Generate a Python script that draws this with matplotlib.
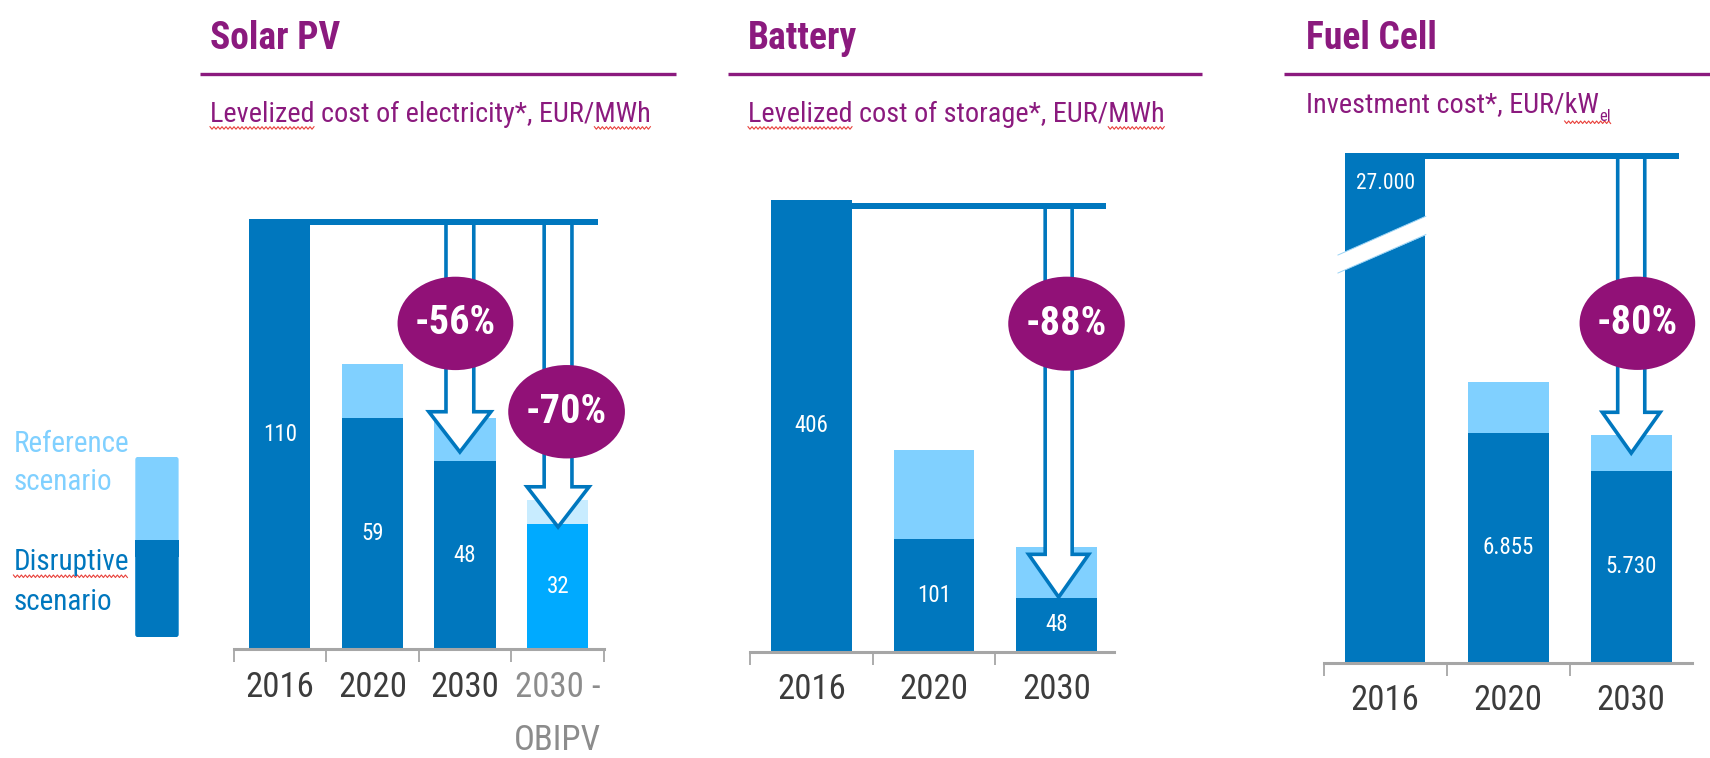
import numpy as np
import matplotlib
matplotlib.use('Agg')
import matplotlib.pyplot as plt
from matplotlib import font_manager as fm
from matplotlib.patches import Rectangle, Ellipse, Polygon, FancyBboxPatch
from matplotlib.lines import Line2D
from matplotlib.text import Annotation

_avail = set(f.name for f in fm.fontManager.ttflist)
_prefs = ['Liberation Sans Narrow', 'Nimbus Sans Narrow', 'Arial Narrow',
          'Roboto Condensed', 'PT Sans Narrow', 'Archivo Narrow', 'Asap Condensed']
NARROW = next((p for p in _prefs if p in _avail), 'Liberation Sans')
FONT = [NARROW, 'Liberation Sans', 'DejaVu Sans']
plt.rcParams['font.family'] = FONT

# ---------------- data ----------------
solar_years = ['2016', '2020', '2030', '2030 -\nOBIPV']
solar_disruptive = [110, 59, 48, 32]
solar_reference = [110, 73, 59, 38]
solar_drops = ['-56%', '-70%']

battery_years = ['2016', '2020', '2030']
battery_disruptive = [406, 101, 48]
battery_reference = [406, 181, 94]
battery_drops = ['-88%']

fuel_years = ['2016', '2020', '2030']
fuel_disruptive = [27000, 6855, 5730]
fuel_reference = [27000, 8380, 6810]
fuel_drops = ['-80%']

titles = ['Solar PV', 'Battery', 'Fuel Cell']
subtitles = ['Levelized cost of electricity*, EUR/MWh',
             'Levelized cost of storage*, EUR/MWh',
             'Investment cost*, EUR/kW']
legend_labels = ['Reference\nscenario', 'Disruptive\nscenario']

# ---------------- style ----------------
DARK = '#0077BE'
LIGHT = '#80D0FF'
BRIGHT = '#00AAFF'
PALE = '#C8ECFF'
PURPLE = '#8B1A7E'
BADGE = '#911177'
AXGRAY = '#A6A6A6'
TICKC = '#3C3C3C'
TICKC2 = '#8C8C8C'
SQUIG = '#E8403A'
LINESP = 1.78

W, H = 1710, 758
fig = plt.figure(figsize=(W / 100, H / 100), dpi=100)


def px_axes(x0, y0, x1, y1):
    return fig.add_axes([x0 / W, 1 - y1 / H, (x1 - x0) / W, (y1 - y0) / H])


def style_axis(ax, labels, xlim, ylim, bounds):
    ax.set_xlim(*xlim)
    ax.set_ylim(*ylim)
    ax.patch.set_alpha(0)
    for s in ['top', 'right', 'left']:
        ax.spines[s].set_visible(False)
    ax.spines['bottom'].set_color(AXGRAY)
    ax.spines['bottom'].set_linewidth(2.2)
    ax.set_yticks([])
    ax.set_xticks(bounds)
    ax.set_xticklabels([])
    ax.tick_params(axis='x', which='major', direction='out', length=9,
                   width=1.3, color=AXGRAY)
    ax.set_xticks(range(len(labels)), labels, minor=True, linespacing=LINESP)
    ax.tick_params(axis='x', which='minor', length=0, pad=15.5,
                   labelsize=25, labelcolor=TICKC)


def bars(ax, dis, ref, width, dark_cols, light_cols, caps=None, labels=None):
    caps = caps or [None] * len(dis)
    for i, (d, r) in enumerate(zip(dis, ref)):
        dd = d if caps[i] is None else caps[i]
        rr = r if caps[i] is None else caps[i]
        if rr > dd:
            ax.bar(i, rr, width=width, color=light_cols[i], zorder=1)
        ax.bar(i, dd, width=width, color=dark_cols[i], zorder=1.5)
        if labels is not None and caps[i] is None:
            ax.text(i, d / 2, labels[i], ha='center', va='center',
                    color='white', fontsize=16.5, zorder=2)


def hollow_arrow(ax, xc, y0, yb, yt, sw, hw):
    verts = [(xc - sw / 2, y0), (xc - sw / 2, yb), (xc - hw / 2, yb), (xc, yt),
             (xc + hw / 2, yb), (xc + sw / 2, yb), (xc + sw / 2, y0)]
    ax.add_patch(Polygon(verts, closed=False, facecolor='white', edgecolor=DARK,
                         lw=2.6, joinstyle='miter', zorder=3, clip_on=False))


def top_line(ax, x0, x1, y0, y1):
    ax.add_patch(Rectangle((x0, y0), x1 - x0, y1 - y0, facecolor=DARK,
                           edgecolor='none', zorder=4, clip_on=False))


def badge(ax, xc, yc, w, h, text):
    ax.add_patch(Ellipse((xc, yc), w, h, facecolor=BADGE, edgecolor='none',
                         zorder=5, clip_on=False))
    ax.text(xc, yc, text, ha='center', va='center', color='white',
            fontsize=29, fontweight='bold', zorder=6, clip_on=False)


# ---------------- titles ----------------
title_x = [210, 748, 1306]
for tx, t in zip(title_x, titles):
    fig.text(tx / W, 1 - 49 / H, t, fontsize=27, fontweight='bold',
             color=PURPLE, va='baseline', ha='left')
for x0, x1 in [(200, 676), (728, 1202), (1284, 1710)]:
    fig.add_artist(Line2D([x0 / W, x1 / W], [1 - 74 / H, 1 - 74 / H],
                          color=PURPLE, lw=2.4, solid_capstyle='butt'))
sub_pos = [(210, 121.7), (748, 121.7), (1306, 112)]
subs = []
for (sx, sy), s in zip(sub_pos, subtitles):
    subs.append(fig.text(sx / W, 1 - sy / H, s, fontsize=20.3, color=PURPLE,
                         va='baseline', ha='left'))
sub_el = Annotation('el', xy=(1, 0), xycoords=subs[2], xytext=(0.5, -2.5),
                    textcoords='offset points', fontsize=12,
                    color=PURPLE, va='baseline', ha='left')
fig.add_artist(sub_el)

# ---------------- legend ----------------
ref_lines = legend_labels[0].split('\n')
dis_lines = legend_labels[1].split('\n')
leg_texts = [
    fig.text(13.4 / W, 1 - 451.7 / H, ref_lines[0], fontsize=21, color=LIGHT, va='baseline'),
    fig.text(13.4 / W, 1 - 490 / H, ref_lines[1], fontsize=21, color=LIGHT, va='baseline'),
    fig.text(13.4 / W, 1 - 570 / H, dis_lines[0], fontsize=21, color=DARK, va='baseline'),
    fig.text(13.4 / W, 1 - 610 / H, dis_lines[1], fontsize=21, color=DARK, va='baseline'),
]
axl = px_axes(135.3, 456.7, 178.6, 637.3)
axl.set_xlim(0, 43.3)
axl.set_ylim(0, 180.6)
axl.axis('off')
axl.add_patch(FancyBboxPatch((0, 0), 43.3, 180.6,
                             boxstyle='round,pad=0,rounding_size=3',
                             facecolor=LIGHT, edgecolor='none'))
axl.add_patch(FancyBboxPatch((0, 0), 43.3, 97.3,
                             boxstyle='round,pad=0,rounding_size=3',
                             facecolor=DARK, edgecolor='none'))
axl.add_patch(Rectangle((0, 80), 43.3, 17.3, facecolor=DARK, edgecolor='none'))

# ---------------- Solar PV ----------------
ax1 = px_axes(233.5, 199.5, 604, 649)
style_axis(ax1, solar_years, (-0.5, 3.5), (0, 115), [-0.5, 0.5, 1.5, 2.5, 3.5])
ax1.get_xticklabels(minor=True)[3].set_color(TICKC2)
bars(ax1, solar_disruptive, solar_reference, 0.66,
     [DARK, DARK, DARK, BRIGHT], [LIGHT, LIGHT, LIGHT, PALE],
     labels=[str(v) for v in solar_disruptive])
top_line(ax1, -0.33, 3.43, 108.5, 110)
hollow_arrow(ax1, 1.944, 109, 60.7, 50.4, 0.30, 0.67)
hollow_arrow(ax1, 3.004, 109, 41.5, 31.2, 0.30, 0.67)
badge(ax1, 1.896, 83.3, 1.25, 23.9, solar_drops[0])
badge(ax1, 3.096, 60.7, 1.26, 23.9, solar_drops[1])

# ---------------- Battery ----------------
ax2 = px_axes(750, 184.0, 1114, 651.5)
style_axis(ax2, battery_years, (-0.5, 2.467), (0, 420), [-0.5, 0.5, 1.5])
bars(ax2, battery_disruptive, battery_reference, 0.656,
     [DARK] * 3, [LIGHT] * 3, labels=[str(v) for v in battery_disruptive])
top_line(ax2, -0.328, 2.40, 397.6, 403)
hollow_arrow(ax2, 2.016, 400, 87.3, 48.8, 0.22, 0.49)
badge(ax2, 2.08, 294.5, 0.95, 84.5, battery_drops[0])

# ---------------- Fuel Cell ----------------
FUEL_CAP = 15230  # drawn height of the broken 2016 bar
ax3 = px_axes(1323.7, 127.3, 1692, 662.5)
style_axis(ax3, fuel_years, (-0.5, 2.494), (0, 16000), [-0.5, 0.5, 1.5])
fuel_labels = [f'{v:,}'.replace(',', '.') for v in fuel_disruptive]
bars(ax3, fuel_disruptive, fuel_reference, 0.655, [DARK] * 3, [LIGHT] * 3,
     caps=[FUEL_CAP, None, None], labels=fuel_labels)
ax3.text(0, 14330, fuel_labels[0], ha='center', va='center', color='white',
         fontsize=15.5, zorder=2)
ax3.add_patch(Polygon([(-0.384, 12182), (0.445, 13528), (0.445, 12960),
                       (-0.384, 11644)], closed=True, facecolor='white',
                      edgecolor='none', zorder=2.5, clip_on=False))
ax3.plot([-0.384, 0.33], [12182, 13341], color='#9AD3F5', lw=0.7, zorder=2.6,
         clip_on=False)
ax3.plot([-0.384, 0.33], [11644, 12792], color='#9AD3F5', lw=0.7, zorder=2.6,
         clip_on=False)
top_line(ax3, -0.327, 2.39, 15052, 15232)
hollow_arrow(ax3, 2.0, 15140, 7480, 6260, 0.22, 0.47)
badge(ax3, 2.05, 10141, 0.94, 2789, fuel_drops[0])

# ---------------- spell-check squiggles (decoration) ----------------
fig.canvas.draw()
renderer = fig.canvas.get_renderer()
for ax in (ax1, ax2, ax3):
    for lab in ax.get_xticklabels(minor=True):
        lab.set_linespacing(LINESP)
ax1.get_xticklabels(minor=True)[3].set_color(TICKC2)


def prefix_width(txt, s):
    if not s:
        return 0.0
    tmp = fig.text(0, 0, s, fontproperties=txt.get_fontproperties())
    w = tmp.get_window_extent(renderer).width
    tmp.remove()
    return w


def squiggle(x0, x1, y_top_px):
    xs = np.arange(x0, x1, 2.0)
    ys = np.where(np.arange(len(xs)) % 2 == 0, y_top_px, y_top_px + 2.5)
    fig.add_artist(Line2D(xs / W, 1 - ys / H, color=SQUIG, lw=0.8))


def squiggle_word(txt, start, end, base_y_px, dy=5):
    bb = txt.get_window_extent(renderer)
    s = txt.get_text()
    xa = bb.x0 + prefix_width(txt, s[:start])
    xb = bb.x0 + prefix_width(txt, s[:end])
    squiggle(xa, xb, base_y_px + dy)


for t, sy in [(subs[0], 121.7), (subs[1], 121.7)]:
    s = t.get_text()
    squiggle_word(t, 0, len('Levelized'), sy)
    squiggle_word(t, s.index('MWh'), len(s), sy)
s2 = subs[2].get_text()
bb_el = sub_el.get_window_extent(renderer)
bb2 = subs[2].get_window_extent(renderer)
squiggle(bb2.x0 + prefix_width(subs[2], s2[:s2.index('kW')]), bb_el.x1, 121)
squiggle_word(leg_texts[2], 0, len(dis_lines[0]), 570)

fig.savefig('out.png', dpi=100)
